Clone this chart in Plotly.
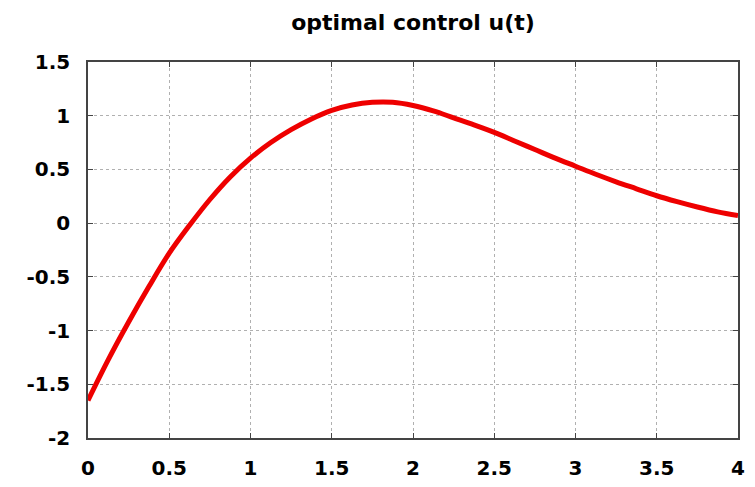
import plotly.graph_objects as go

t_values = [0.0, 0.125, 0.25, 0.375, 0.5, 0.625, 0.75, 0.875, 1.0, 1.125, 1.25, 1.375, 1.5,
            1.625, 1.75, 1.875, 2.0, 2.125, 2.25, 2.375, 2.5, 2.625, 2.75, 2.875, 3.0,
            3.125, 3.25, 3.375, 3.5, 3.625, 3.75, 3.875, 4.0]
u_values = [-1.65, -1.27, -0.92, -0.59, -0.28, -0.02, 0.22, 0.43, 0.605, 0.75, 0.87, 0.97, 1.05,
            1.10, 1.125, 1.125, 1.095, 1.045, 0.98, 0.915, 0.845, 0.765, 0.685, 0.605, 0.53,
            0.455, 0.385, 0.32, 0.255, 0.20, 0.15, 0.105, 0.07]
x_ticks = [0, 0.5, 1, 1.5, 2, 2.5, 3, 3.5, 4]
y_ticks = [-2, -1.5, -1, -0.5, 0, 0.5, 1, 1.5]
title_text = "optimal control u(t)"

font = dict(family="DejaVu Sans", size=20, color="black", weight=700)

fig = go.Figure()
fig.add_trace(go.Scatter(x=t_values, y=u_values, mode="lines",
                         line=dict(color="#ee0000", width=5, shape="spline", smoothing=1.0),
                         showlegend=False))

axis_common = dict(showgrid=True, gridcolor="#b0b0b0", griddash="dot", gridwidth=1,
                   showline=True, linecolor="#444444", linewidth=1.5, mirror="ticks",
                   ticks="inside", ticklen=5, tickcolor="#444444", zeroline=False,
                   tickfont=font, automargin=False)

fig.update_layout(
    width=755, height=487,
    margin=dict(l=88, r=17, t=62, b=49),
    paper_bgcolor="white", plot_bgcolor="white",
    title=dict(text=title_text, x=0.547, xanchor="center", y=0.955, yanchor="middle",
               automargin=False,
               font=dict(family="DejaVu Sans", size=22, color="black", weight=700)),
    xaxis=dict(range=[0, 4], tickvals=x_ticks, ticktext=[f"{v:g}" for v in x_ticks],
               ticklabelstandoff=11, **axis_common),
    yaxis=dict(range=[-2, 1.5], tickvals=y_ticks, ticktext=[f"{v:g}" for v in y_ticks],
               ticklabelstandoff=12, **axis_common),
)

fig.write_html("out.html", config={"displayModeBar": False},
               post_script="document.body.style.margin='0';")
